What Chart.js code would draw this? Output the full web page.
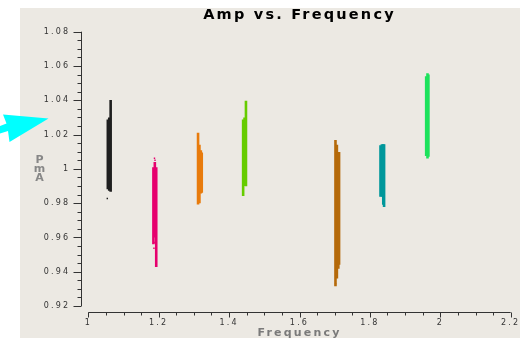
<!DOCTYPE html>
<html>
<head>
<meta charset="utf-8">
<script src="https://cdn.jsdelivr.net/npm/chart.js@4/dist/chart.umd.min.js"></script>
<style>
  html, body { margin: 0; padding: 0; background: #ffffff; overflow: hidden; }
  canvas { display: block; }
</style>
</head>
<body>
<canvas id="chart" width="531" height="338"></canvas>
<script>
// Axis ticks
const xTicks = [1, 1.2, 1.4, 1.6, 1.8, 2, 2.2];
const yTicks = [0.92, 0.94, 0.96, 0.98, 1, 1.02, 1.04, 1.06, 1.08];

// Spectral windows: channel frequency, lowest and highest amplitude per channel
const spw0Freq = [1.0555, 1.0595, 1.0635];
const spw0Low  = [0.9881, 0.9872, 0.9866];
const spw0High = [1.0288, 1.0300, 1.0401];

const spw1Freq = [1.1850, 1.1890, 1.1930];
const spw1Low  = [0.9560, 0.9600, 0.9428];
const spw1High = [1.0010, 1.0040, 1.0010];

const spw2Freq = [1.3118, 1.3157, 1.3197, 1.3223];
const spw2Low  = [0.9792, 0.9800, 0.9856, 0.9860];
const spw2High = [1.0210, 1.0140, 1.0109, 1.0095];

const spw3Freq = [1.4399, 1.4439, 1.4479];
const spw3Low  = [0.9841, 0.9900, 0.9899];
const spw3High = [1.0288, 1.0300, 1.0397];

const spw4Freq = [1.7022, 1.7062, 1.7102, 1.7124];
const spw4Low  = [0.9315, 0.9360, 0.9418, 0.9440];
const spw4High = [1.0168, 1.0140, 1.0099, 1.0099];

const spw5Freq = [1.8301, 1.8341, 1.8380, 1.8403];
const spw5Low  = [0.9837, 0.9837, 0.9790, 0.9778];
const spw5High = [1.0138, 1.0144, 1.0144, 1.0144];

const spw6Freq = [1.9599, 1.9636, 1.9662];
const spw6Low  = [1.0075, 1.0061, 1.0070];
const spw6High = [1.0540, 1.0557, 1.0550];

// Isolated samples away from the main ranges
const spw0OutFreq = [1.0540];
const spw0OutAmp  = [0.9827];
const spw1OutFreq = [1.1880, 1.1895, 1.1865, 1.1870];
const spw1OutAmp  = [1.0062, 1.0050, 0.9537, 0.9570];
const spw4OutFreq = [1.7025];
const spw4OutAmp  = [0.9330];

const spwColors = ['#1f1f1f', '#e6006e', '#e87b0c', '#66cc00', '#b56a0a', '#00979b', '#1de25c'];

const windows = [
  [spw0Freq, spw0Low, spw0High],
  [spw1Freq, spw1Low, spw1High],
  [spw2Freq, spw2Low, spw2High],
  [spw3Freq, spw3Low, spw3High],
  [spw4Freq, spw4Low, spw4High],
  [spw5Freq, spw5Low, spw5High],
  [spw6Freq, spw6Low, spw6High]
];
const outliers = [
  [spw0OutFreq, spw0OutAmp, 0],
  [spw1OutFreq, spw1OutAmp, 1],
  [spw4OutFreq, spw4OutAmp, 4]
];

const datasets = windows.map(([freq, low, high], i) => ({
  type: 'bar',
  data: freq.map((f, j) => ({ x: f, y: [low[j], high[j]] })),
  backgroundColor: spwColors[i],
  borderWidth: 0,
  grouped: false,
  barPercentage: 1,
  categoryPercentage: 4,
  maxBarThickness: 2.6
}));
outliers.forEach(([freq, amp, i]) => {
  datasets.push({
    type: 'scatter',
    data: freq.map((f, j) => ({ x: f, y: amp[j] })),
    backgroundColor: spwColors[i],
    borderWidth: 0,
    pointRadius: 1,
    pointStyle: 'rect'
  });
});

const FONT = 'DejaVu Sans';

// Page backdrop and panel
const backdrop = {
  id: 'backdrop',
  beforeDraw(chart) {
    const ctx = chart.ctx;
    ctx.save();
    ctx.fillStyle = '#ffffff';
    ctx.fillRect(0, 0, chart.width, chart.height);
    ctx.fillStyle = '#ece9e3';
    ctx.fillRect(20, 8, 500, chart.height - 8);
    ctx.restore();
    ctx.letterSpacing = '2.2px';
  }
};

// Detached axis lines with major and minor tick marks, y-axis caption, pointer
const axesDecor = {
  id: 'axesDecor',
  afterDraw(chart) {
    const ctx = chart.ctx;
    const xs = chart.scales.x, ys = chart.scales.y;
    const area = chart.chartArea;
    ctx.save();
    ctx.letterSpacing = '0px';
    ctx.strokeStyle = '#333333';
    ctx.lineWidth = 1;

    // y axis
    const ax = Math.round(area.left - 7) + 0.5;
    ctx.beginPath();
    ctx.moveTo(ax, ys.getPixelForValue(yTicks[0]));
    ctx.lineTo(ax, ys.getPixelForValue(yTicks[yTicks.length - 1]));
    yTicks.forEach((v, i) => {
      const py = Math.round(ys.getPixelForValue(v)) + 0.5;
      ctx.moveTo(ax - 8, py); ctx.lineTo(ax, py);
      if (i < yTicks.length - 1) {
        const step = (yTicks[i + 1] - v) / 4;
        for (let k = 1; k < 4; k++) {
          const my = Math.round(ys.getPixelForValue(v + k * step)) + 0.5;
          ctx.moveTo(ax - 4, my); ctx.lineTo(ax, my);
        }
      }
    });
    ctx.stroke();

    // x axis
    const ay = Math.round(area.bottom + 6) + 0.5;
    ctx.beginPath();
    ctx.moveTo(xs.getPixelForValue(xTicks[0]), ay);
    ctx.lineTo(xs.getPixelForValue(xTicks[xTicks.length - 1]), ay);
    xTicks.forEach((v, i) => {
      const px = Math.round(xs.getPixelForValue(v)) + 0.5;
      ctx.moveTo(px, ay); ctx.lineTo(px, ay + 5);
      if (i < xTicks.length - 1) {
        const step = (xTicks[i + 1] - v) / 4;
        for (let k = 1; k < 4; k++) {
          const mx = Math.round(xs.getPixelForValue(v + k * step)) + 0.5;
          ctx.moveTo(mx, ay); ctx.lineTo(mx, ay + 3);
        }
      }
    });
    ctx.stroke();

    // y-axis caption, letters stacked
    ctx.fillStyle = '#878787';
    ctx.font = 'bold 11px "' + FONT + '"';
    ctx.textAlign = 'center';
    ctx.textBaseline = 'middle';
    ['P', 'm', 'A'].forEach((ch, i) => ctx.fillText(ch, 39.5, 160.5 + i * 9));

    // cyan pointer
    ctx.fillStyle = '#00ffff';
    ctx.beginPath();
    ctx.moveTo(3, 114.5);
    ctx.lineTo(48.5, 118.5);
    ctx.lineTo(9.5, 142);
    ctx.lineTo(8, 131);
    ctx.lineTo(0, 133.5);
    ctx.lineTo(0, 126);
    ctx.lineTo(6.5, 123.5);
    ctx.closePath();
    ctx.fill();
    ctx.restore();
  }
};

new Chart(document.getElementById('chart'), {
  type: 'bar',
  data: { datasets },
  options: {
    responsive: false,
    devicePixelRatio: 1,
    animation: false,
    events: [],
    layout: { padding: { left: 20, right: 20.3, top: 0, bottom: 0 } },
    plugins: {
      legend: { display: false },
      tooltip: { enabled: false },
      title: {
        display: true,
        text: 'Amp vs. Frequency',
        fullSize: false,
        color: '#000000',
        font: { family: FONT, size: 14.5, weight: 'bold', lineHeight: 1.2 },
        padding: { top: 7, bottom: 7.3 }
      }
    },
    scales: {
      x: {
        type: 'linear',
        position: 'bottom',
        min: 1,
        max: 2.2,
        offset: false,
        afterBuildTicks: s => { s.ticks = xTicks.map(v => ({ value: v })); },
        afterFit: s => { s.height = 32; },
        ticks: {
          callback: v => String(+v.toFixed(2)),
          color: '#333333',
          font: { family: FONT, size: 8 },
          padding: 12.2,
          maxRotation: 0,
          autoSkip: false
        },
        grid: { display: false, drawTicks: false },
        border: { display: false },
        title: {
          display: true,
          text: 'Frequency',
          color: '#7a7a7a',
          font: { family: FONT, size: 11, weight: 'bold', lineHeight: 0.9 },
          padding: 0
        }
      },
      y: {
        type: 'linear',
        min: 0.92,
        max: 1.08,
        afterBuildTicks: s => { s.ticks = yTicks.map(v => ({ value: v })); },
        afterFit: s => { s.width = 68.3; },
        ticks: {
          callback: v => String(+v.toFixed(3)),
          color: '#333333',
          font: { family: FONT, size: 8 },
          padding: 18
        },
        grid: { display: false, drawTicks: false },
        border: { display: false }
      }
    }
  },
  plugins: [backdrop, axesDecor]
});
</script>
</body>
</html>
